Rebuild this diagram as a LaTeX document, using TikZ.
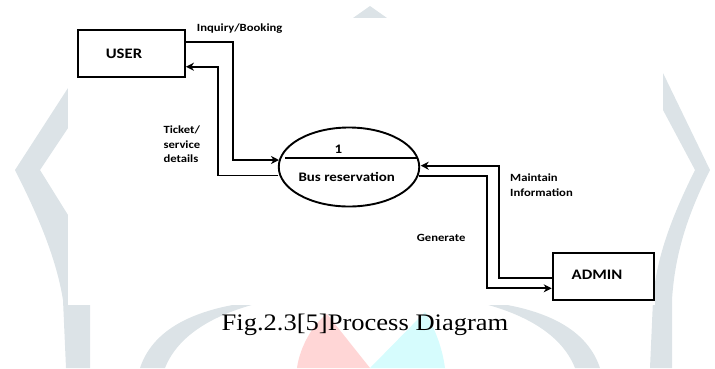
\documentclass[tikz,border=0pt]{standalone}
\usepackage{fontspec}
\setmainfont{Liberation Serif}
\newfontfamily\lblfont[FakeStretch=1.15]{Carlito}
\newfontfamily\capfont[FakeStretch=1.12]{Liberation Serif}
\usetikzlibrary{arrows.meta,calc,shapes.geometric}
\definecolor{wmgray}{HTML}{DCE3E7}
\definecolor{wmred}{HTML}{FFD6D6}
\definecolor{wmcyan}{HTML}{D6FCFD}
\tikzset{
  box/.style={draw, line width=1.9pt, inner sep=0pt},
  flow/.style={line width=1.9pt, -{Stealth[length=8pt,width=8pt,inset=2.5pt]}},
  lbl/.style={font=\lblfont\bfseries\fontsize{11}{14.7}\selectfont, inner sep=0pt, text=black},
  boxtxt/.style={font=\lblfont\bfseries\fontsize{14.5}{17}\selectfont, inner sep=0pt, anchor=base},
  proctxt/.style={font=\lblfont\bfseries\fontsize{13}{16}\selectfont, inner sep=0pt, anchor=base}
}
\begin{document}
\begin{tikzpicture}[x=1pt,y=-1pt]
\useasboundingbox (0,0) rectangle (715,368);
% watermark
\fill[wmgray] (68,88) -- (15,170) .. controls (30,200) and (55,250) .. (63,300) -- (66,368) -- (90,368) -- (90,300) -- (68,215) -- (40,170) -- (68,128) -- cycle;
\fill[wmgray] (663,73) -- (710,170) .. controls (690,210) and (675,250) .. (672,300) -- (672,368) -- (650,368) -- (653,300) .. controls (656,260) and (670,220) .. (695,170) -- (663,110) -- cycle;
\fill[wmgray] (370,6) -- (404,30) -- (336,30) -- cycle;
\fill[wmgray] (140,368) .. controls (152,332) and (190,306) .. (272,300) .. controls (215,312) and (178,335) .. (165,368) -- cycle;
\fill[wmgray] (600,368) .. controls (588,332) and (550,306) .. (468,300) .. controls (525,312) and (562,335) .. (575,368) -- cycle;
\fill[wmred] (327,314) .. controls (315,322) and (300,345) .. (297,368) -- (370,368) -- cycle;
\fill[wmcyan] (425,312) -- (370,368) -- (445,368) .. controls (442,345) and (433,325) .. (425,312) -- cycle;
\fill[white] (68,18) rectangle (655,305);
% nodes
\node[box, minimum width=106.7pt, minimum height=47pt] (user) at (131.6,53.8) {};
\node[boxtxt] (usert) at (124,58.3) {USER};
\node[box, minimum width=101.3pt, minimum height=47pt] (admin) at (603.3,276.2) {};
\node[boxtxt] (admint) at (597,279.7) {ADMIN};
\node[draw, ellipse, line width=1.9pt, minimum width=140.5pt, minimum height=79pt, inner sep=0pt] (bus) at (349,167) {};
\draw[line width=1.9pt] ($(bus.center)+(-64,-8.7)$) coordinate (divl) -- ($(bus.center)+(68,-8.7)$) coordinate (divr);
\node[proctxt] (num) at (338.3,153.3) {1};
\node[proctxt] (busname) at (346.7,181.7) {Bus reservation};
% flows
\draw[flow] ($(user.east)+(0,-12.1)$) -| (233.3,100) |- ($(bus.west)+(1.2,-7)$);
\draw[flow] ($(bus.west)+(0.5,8.5)$) -| (218.3,100) |- ($(user.east)+(0,12.9)$);
\draw[flow] ($(admin.west)+(0,2.1)$) -| (499,220) |- ($(bus.east)+(0.5,-1.3)$);
\draw[flow] ($(bus.east)+(-1.3,9)$) -| (487.3,220) |- ($(admin.west)+(0,12.1)$);
% labels
\node[lbl, anchor=base west] (inq) at (196.7,31.8) {Inquiry/Booking};
\node[lbl, anchor=north west, align=left] (tick) at (163.3,125.5) {Ticket/\\service\\details};
\node[lbl, anchor=north west, align=left] (maint) at (510,173.6) {Maintain\\Information};
\node[lbl, anchor=base west] (gen) at (416.7,241.2) {Generate};
% caption
\node[anchor=base, inner sep=0pt, font=\capfont\fontsize{23.7}{28}\selectfont] (cap) at (365,330.7) {Fig.2.3[5]Process Diagram};
\end{tikzpicture}
\end{document}
